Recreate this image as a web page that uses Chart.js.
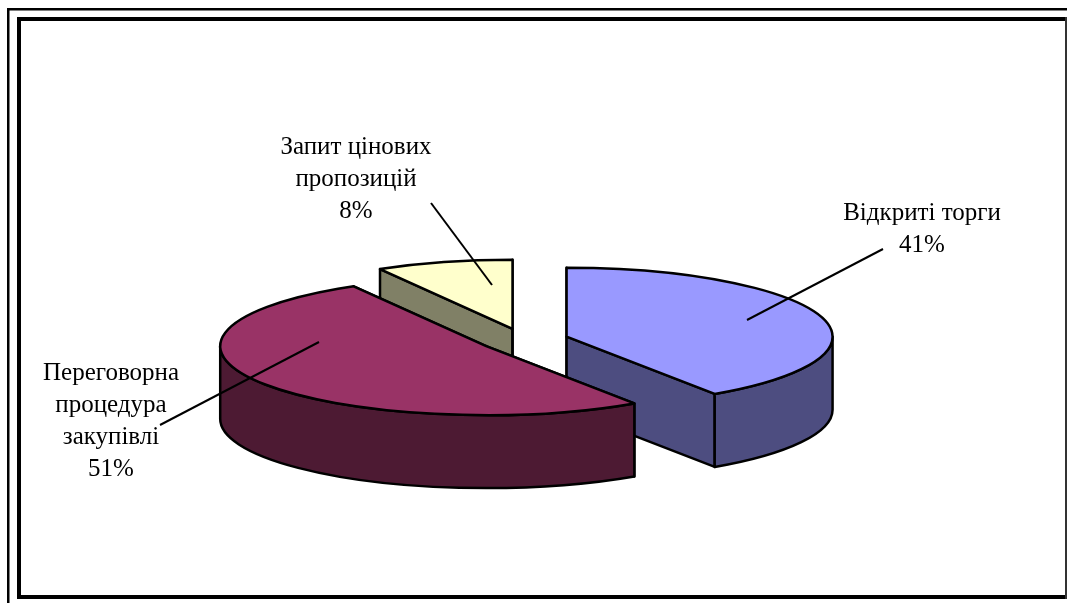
<!DOCTYPE html>
<html lang="uk">
<head>
<meta charset="utf-8">
<title>Pie</title>
<style>html,body{margin:0;padding:0;background:#fff;overflow:hidden}canvas{display:block}</style>
<script src="https://cdn.jsdelivr.net/npm/chart.js@4/dist/chart.umd.min.js"></script>
</head>
<body>
<canvas id="c" width="1067" height="603"></canvas>
<script>
const categories = [['Відкриті торги'], ['Переговорна', 'процедура', 'закупівлі'], ['Запит цінових', 'пропозицій']];
const shares = [40.6, 51.1, 8.3];
const topColors = ['#9999FF', '#993366', '#FFFFCC'];
const wallColors = ['#4D4D80', '#4D1A33', '#808066'];
const labelCenters = [[922, 213], [111, 373], [356, 147]];
const leaders = [[[747, 320], [883, 249]], [[319, 342], [160, 425]], [[492, 285], [431, 203]]];

const TILT = 0.2594, DEPTH = 73, EXPLODE = 44.5, LW = 2.5;
const drawOrder = [2, 0, 1];

const pie3d = {
  id: 'pie3d',
  beforeDraw(chart) {
    const c = chart.ctx;
    c.save();
    c.fillStyle = '#fff';
    c.fillRect(0, 0, 1067, 603);
    c.fillStyle = '#000';
    c.fillRect(7, 8, 1060, 2.5);
    c.fillRect(7, 8, 2.5, 595);
    c.fillRect(17, 17, 1050, 4);
    c.fillRect(17, 17, 4, 582);
    c.fillRect(17, 595, 1050, 4);
    c.fillStyle = '#333';
    c.fillRect(1065, 17, 2, 582);
    c.restore();
  },
  beforeDatasetsDraw(chart) {
    const c = chart.ctx;
    const arcs = chart.getDatasetMeta(0).data;
    for (const i of drawOrder) {
      const a = arcs[i];
      const mid = (a.startAngle + a.endAngle) / 2;
      const cx = a.x + Math.cos(mid) * EXPLODE;
      const cy = a.y + Math.sin(mid) * EXPLODE * TILT;
      const rx = a.outerRadius, ry = rx * TILT;
      const px = t => cx + rx * Math.cos(t), py = t => cy + ry * Math.sin(t);
      c.save();
      c.lineWidth = LW;
      c.lineJoin = 'round';
      c.strokeStyle = '#000';
      c.fillStyle = wallColors[i];
      for (const t of [a.startAngle, a.endAngle]) {
        c.beginPath();
        c.moveTo(cx, cy);
        c.lineTo(px(t), py(t));
        c.lineTo(px(t), py(t) + DEPTH);
        c.lineTo(cx, cy + DEPTH);
        c.closePath();
        c.fill();
        c.stroke();
      }
      const w0 = Math.max(a.startAngle, 0), w1 = Math.min(a.endAngle, Math.PI);
      if (w1 > w0) {
        c.beginPath();
        c.ellipse(cx, cy, rx, ry, 0, w0, w1);
        c.ellipse(cx, cy + DEPTH, rx, ry, 0, w1, w0, true);
        c.closePath();
        c.fill();
        c.stroke();
      }
      c.save();
      c.translate(cx, cy);
      c.scale(1, TILT);
      c.translate(-a.x, -a.y);
      a.draw(c);
      c.restore();
      c.beginPath();
      c.moveTo(cx, cy);
      c.ellipse(cx, cy, rx, ry, 0, a.startAngle, a.endAngle);
      c.closePath();
      c.stroke();
      c.restore();
    }
    return false;
  },
  afterDraw(chart) {
    const c = chart.ctx;
    const total = shares.reduce((s, v) => s + v, 0);
    c.save();
    c.strokeStyle = '#000';
    c.lineWidth = 2;
    leaders.forEach(l => {
      c.beginPath();
      c.moveTo(l[0][0], l[0][1]);
      c.lineTo(l[1][0], l[1][1]);
      c.stroke();
    });
    c.fillStyle = '#000';
    c.font = '25px "Liberation Serif"';
    c.textAlign = 'center';
    c.textBaseline = 'middle';
    categories.forEach((lines, i) => {
      const all = lines.concat([Math.round(shares[i] / total * 100) + '%']);
      all.forEach((t, j) => c.fillText(t, labelCenters[i][0], labelCenters[i][1] + j * 32));
    });
    c.restore();
  }
};

new Chart(document.getElementById('c'), {
  type: 'pie',
  data: {
    labels: categories.map(l => l.join(' ')),
    datasets: [{ data: shares, backgroundColor: topColors, borderWidth: 0, offset: 0, radius: 266 }]
  },
  options: {
    responsive: false,
    animation: false,
    events: [],
    layout: { padding: { left: 0, right: 19, top: 77, bottom: 0 } },
    plugins: { legend: { display: false }, tooltip: { enabled: false }, title: { display: false } }
  },
  plugins: [pie3d]
});
</script>
</body>
</html>
